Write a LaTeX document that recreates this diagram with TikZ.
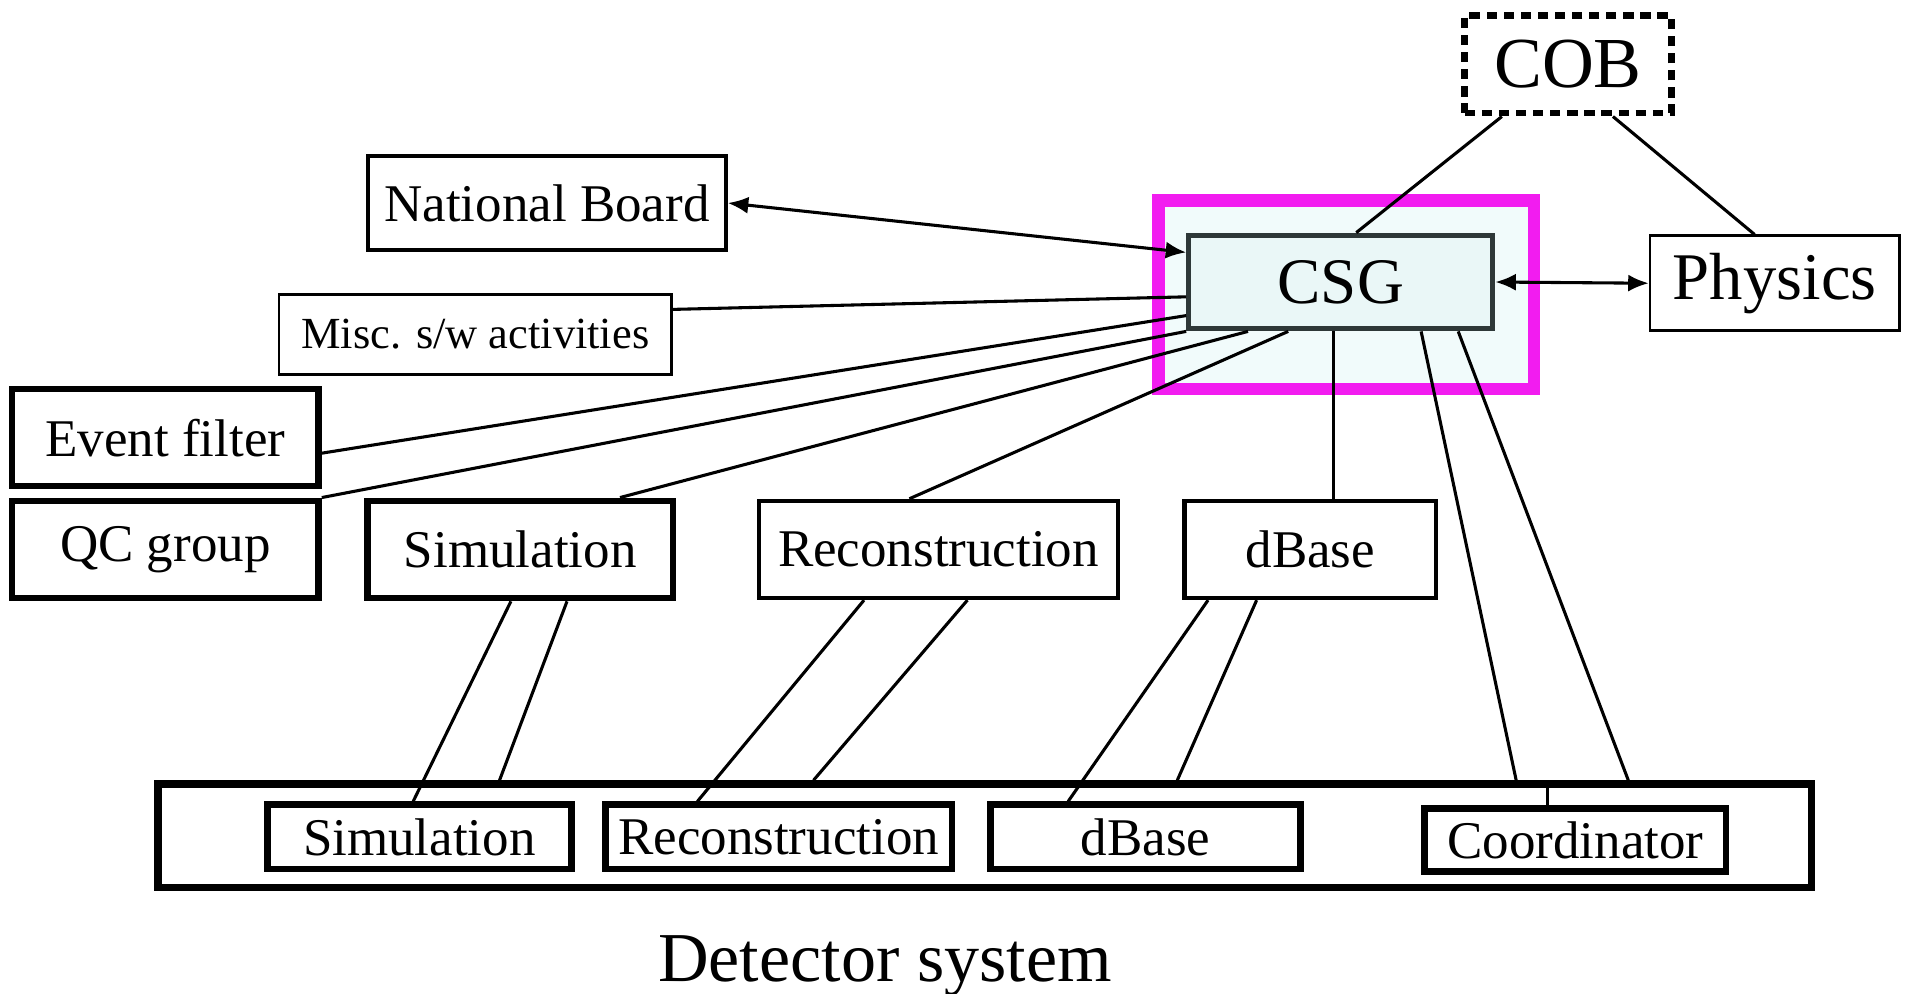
\documentclass[tikz,border=0pt]{standalone}
\usepackage{fontspec}
\setmainfont{Liberation Serif}
\usepackage{xcolor}
\usepackage{tikz}
\usetikzlibrary{positioning, arrows.meta, calc}
\definecolor{framemag}{HTML}{F21CF0}
\definecolor{paleteal}{HTML}{F1FBFB}
\definecolor{csgfill}{HTML}{EAF7F7}
\definecolor{csgline}{HTML}{2E3838}

\begin{document}
\begin{tikzpicture}[x=0.0125cm, y=-0.0125cm,
    box/.style={draw=black, fill=white, line width=1.2pt, inner sep=0pt,
                font=\fontsize{15.5}{18}\selectfont},
    heavybox/.style={box, line width=1.9pt},
    thinbox/.style={box, line width=0.8pt},
    link/.style={line width=0.9pt},
    twoway/.style={link, {Latex[length=6pt,width=5pt]}-{Latex[length=6pt,width=5pt]}}]
    \useasboundingbox (0,0) rectangle (1568,817);

    % CSG and its frame
    \node[draw=framemag, fill=paleteal, line width=3.6pt, minimum width=3.8625cm,
          minimum height=1.9375cm] (csgframe) at (1107.5,242.5) {};
    \node[box, draw=csgline, fill=csgfill, line width=1.5pt, minimum width=3.125cm,
          minimum height=0.9625cm, font=\fontsize{19}{22}\selectfont] (csg) at (1103,232) {CSG};

    % top row
    \node[box, line width=2pt, dash pattern=on 3pt off 2pt, minimum width=2.125cm,
          minimum height=1cm, font=\fontsize{21}{24}\selectfont] (cob) at (1290,53) {COB};
    \node[box, minimum width=3.675cm, minimum height=0.975cm] (natboard) at (450,167) {National Board};
    \node[thinbox, minimum width=2.5625cm, minimum height=0.975cm,
          font=\fontsize{19.5}{22}\selectfont] (physics) at (1460,233) {Physics};
    \node[thinbox, minimum width=4.0375cm, minimum height=0.825cm,
          font=\fontsize{13}{15}\selectfont] (misc) at (391,275) {Misc. s/w activities};
    \node[heavybox, minimum width=3.15cm, minimum height=1cm] (evfilter) at (136,360) {Event filter};

    % working groups
    \node[heavybox, minimum width=3.15cm, minimum height=1cm] (qc) at (136,452) {QC group};
    \node[heavybox, minimum width=3.1375cm, minimum height=1cm] (simu) at (428,452) {Simulation};
    \node[box, minimum width=3.6875cm, minimum height=1cm] (reco) at (772,452) {Reconstruction};
    \node[box, minimum width=2.5875cm, minimum height=1cm] (dbase) at (1078,452) {dBase};

    % detector system
    \node[heavybox, line width=2.2pt, minimum width=17cm, minimum height=1.0625cm] (det) at (810,687.5) {};
    \node[heavybox, minimum width=3.125cm, minimum height=0.6625cm] (simd) at (345,688.5) {Simulation};
    \node[heavybox, minimum width=3.5625cm, minimum height=0.6625cm] (recod) at (640.5,688.5) {Reconstruction};
    \node[heavybox, minimum width=3.1875cm, minimum height=0.6625cm] (dbased) at (942.5,688.5) {dBase};
    \node[heavybox, minimum width=3.1cm, minimum height=0.65cm] (coord) at (1296,691) {Coordinator};
    \node[font=\fontsize{20.5}{24}\selectfont] (detlabel) at (728,795) {Detector system};

    % COB links
    \draw[link] ($(cob.south west)!.19!(cob.south east)$) -- ($(csg.north west)!.55!(csg.north east)$);
    \draw[link] ($(cob.south west)!.71!(cob.south east)$) -- ($(physics.north west)!.42!(physics.north east)$);

    % two-way links
    \draw[twoway] (natboard.east) -- ($(csg.north west)!.2!(csg.south west)$);
    \draw[twoway] (csg.east) -- (physics.west);

    % groups to CSG
    \draw[link] ($(misc.north east)!.2!(misc.south east)$) -- ($(csg.north west)!.65!(csg.south west)$);
    \draw[link] ($(evfilter.north east)!.65!(evfilter.south east)$) -- ($(csg.north west)!.84!(csg.south west)$);
    \draw[link] (qc.north east) -- (csg.south west);
    \draw[link] ($(simu.north west)!.82!(simu.north east)$) -- ($(csg.south west)!.2!(csg.south east)$);
    \draw[link] ($(reco.north west)!.42!(reco.north east)$) -- ($(csg.south west)!.33!(csg.south east)$);
    \draw[link] ($(csg.south west)!.476!(csg.south east)$) coordinate (csgdown) -- (csgdown |- dbase.north);
    \draw[link] ($(csg.south west)!.76!(csg.south east)$) -- ($(det.north west)!.82!(det.north east)$);
    \draw[link] ($(csg.south west)!.88!(csg.south east)$) -- ($(det.north west)!.8875!(det.north east)$);
    \draw[link] ($(coord.north west)!.41!(coord.north east)$) coordinate (coordup) -- (coordup |- det.north);

    % groups to detector system
    \draw[link] ($(simu.south west)!.47!(simu.south east)$) -- ($(simd.north west)!.48!(simd.north east)$);
    \draw[link] ($(simu.south west)!.65!(simu.south east)$) -- ($(det.north west)!.208!(det.north east)$);
    \draw[link] ($(reco.south west)!.295!(reco.south east)$) -- ($(recod.north west)!.27!(recod.north east)$);
    \draw[link] ($(reco.south west)!.58!(reco.south east)$) -- ($(det.north west)!.397!(det.north east)$);
    \draw[link] ($(dbase.south west)!.1!(dbase.south east)$) -- ($(dbased.north west)!.255!(dbased.north east)$);
    \draw[link] ($(dbase.south west)!.29!(dbase.south east)$) -- ($(det.north west)!.616!(det.north east)$);
\end{tikzpicture}
\end{document}
